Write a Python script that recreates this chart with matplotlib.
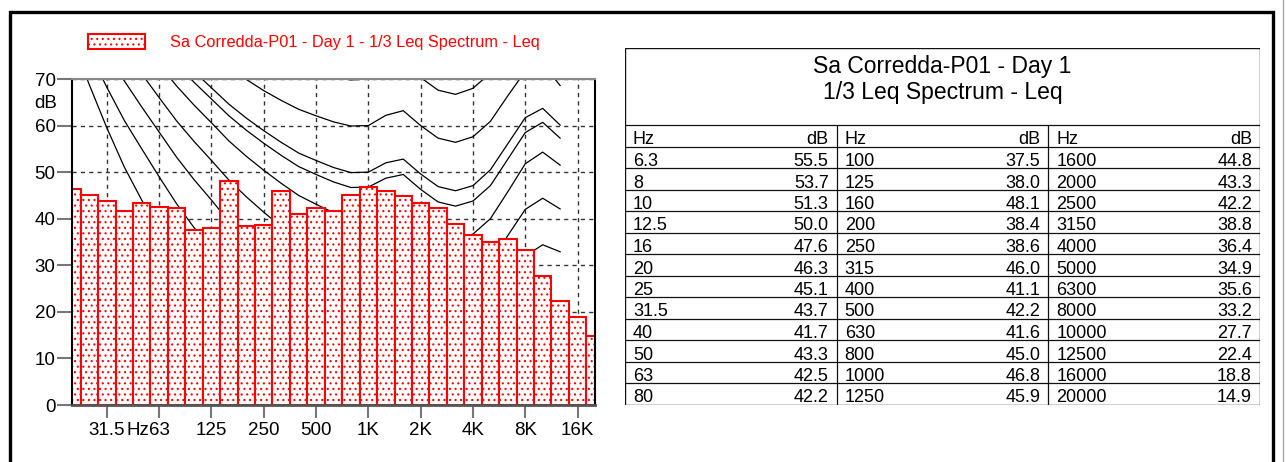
import numpy as np
import matplotlib
matplotlib.use('Agg')
from matplotlib import pyplot as plt
from matplotlib.patches import Rectangle
from matplotlib.lines import Line2D

plt.rcParams['font.family'] = ['Liberation Sans', 'DejaVu Sans']
plt.rcParams['hatch.linewidth'] = 0.8

# 1/3 octave bands and measured Leq (dB).
BANDS = ['6.3', '8', '10', '12.5', '16', '20', '25', '31.5', '40', '50', '63', '80',
         '100', '125', '160', '200', '250', '315', '400', '500', '630', '800', '1000', '1250',
         '1600', '2000', '2500', '3150', '4000', '5000', '6300', '8000', '10000', '12500',
         '16000', '20000']
LEQ = [55.5, 53.7, 51.3, 50.0, 47.6, 46.3, 45.1, 43.7, 41.7, 43.3, 42.5, 42.2,
       37.5, 38.0, 48.1, 38.4, 38.6, 46.0, 41.1, 42.2, 41.6, 45.0, 46.8, 45.9,
       44.8, 43.3, 42.2, 38.8, 36.4, 34.9, 35.6, 33.2, 27.7, 22.4, 18.8, 14.9]

# Axis ticks (band index -> label).
TICK_BANDS = ['31.5', '63', '125', '250', '500', '1000', '2000', '4000', '8000', '16000']
TICK_LABELS = ['31.5', '63', '125', '250', '500', '1K', '2K', '4K', '8K', '16K']

# Equal loudness contours, 20 Hz .. 12.5 kHz.
CONTOUR_BANDS = BANDS[5:34]
PHON_0 = [78.5, 68.7, 59.5, 51.1, 44.0, 37.5, 31.5, 26.5, 22.1, 17.9, 14.4, 11.4, 8.6, 6.2, 4.4,
          3.0, 2.2, 2.4, 3.5, 1.7, -1.3, -4.2, -6.0, -5.4, -1.5, 6.0, 12.6, 13.9, 12.3]
PHON_10 = [83.8, 75.8, 68.2, 61.1, 55.0, 49.0, 43.2, 38.1, 33.5, 28.8, 24.8, 21.3, 18.1, 15.1, 13.0,
           11.2, 10.0, 10.0, 11.3, 10.4, 7.3, 4.5, 3.0, 4.0, 7.5, 14.3, 20.4, 21.4, 18.6]
PHON_20 = [89.6, 82.7, 76.0, 69.6, 64.0, 58.6, 53.2, 48.4, 44.0, 39.4, 35.5, 31.9, 28.4, 25.3, 23.0,
           21.4, 20.3, 20.0, 21.6, 21.1, 18.5, 15.8, 15.1, 16.4, 20.1, 26.4, 32.0, 34.4, 32.9]
PHON_30 = [94.8, 88.4, 82.2, 76.3, 71.1, 66.0, 61.0, 56.6, 52.5, 48.3, 44.7, 41.4, 38.3, 35.4, 33.3,
           31.6, 30.5, 30.0, 31.9, 31.9, 28.9, 26.3, 25.5, 26.6, 30.3, 36.4, 42.0, 44.4, 42.1]
PHON_40 = [99.9, 93.9, 88.2, 82.6, 77.8, 73.1, 68.5, 64.4, 60.6, 56.7, 53.4, 50.4, 47.6, 45.0, 43.1,
           41.3, 40.1, 40.0, 41.8, 42.5, 39.2, 36.5, 35.6, 36.7, 40.0, 45.8, 51.8, 54.3, 51.5]
PHON_LN = [103.2, 97.5, 91.9, 86.6, 81.9, 77.5, 73.2, 69.3, 65.7, 62.1, 59.0, 56.2, 53.6, 51.2, 49.5,
           47.9, 46.7, 46.8, 48.7, 49.5, 46.3, 43.6, 42.7, 43.8, 47.1, 52.8, 58.5, 60.7, 57.3]
PHON_50 = [104.8, 99.2, 93.7, 88.5, 83.9, 79.6, 75.4, 71.6, 68.1, 64.6, 61.6, 58.9, 56.4, 54.1, 52.5,
           51.0, 49.9, 50.0, 52.0, 52.8, 49.6, 46.9, 46.0, 47.1, 50.5, 56.1, 61.7, 63.7, 60.1]
PHON_60 = [109.5, 104.2, 99.1, 94.2, 90.0, 85.9, 82.1, 78.7, 75.6, 72.5, 69.9, 67.5, 65.4, 63.5, 62.1,
           60.8, 59.9, 60.0, 62.2, 63.2, 60.0, 57.3, 56.4, 57.6, 60.9, 66.4, 71.7, 73.2, 68.6]
PHON_70 = [114.3, 109.2, 104.4, 99.8, 95.8, 92.2, 88.6, 85.6, 82.8, 80.1, 77.9, 75.9, 74.1, 72.6, 71.5,
           70.5, 69.8, 70.0, 72.3, 73.5, 70.3, 67.6, 66.7, 68.0, 71.3, 76.8, 81.8, 82.8, 77.2]
CONTOURS = [PHON_0, PHON_10, PHON_20, PHON_30, PHON_40, PHON_LN, PHON_50, PHON_60, PHON_70]

TITLE = 'Sa Corredda-P01 - Day 1'
SUBTITLE = '1/3 Leq Spectrum - Leq'

W, H = 1286, 462
fig = plt.figure(figsize=(W / 100, H / 100), dpi=100)

# Page frame.
fig.add_artist(Rectangle((10 / W, -0.2), (1273 - 10) / W, 1.2 - 12 / H, transform=fig.transFigure,
                         fill=False, edgecolor='black', linewidth=2.4))
fig.add_artist(Line2D([1283 / W, 1283 / W], [0, 1], transform=fig.transFigure, color='#aaaaaa', lw=1))

# ---- Spectrum plot ----
ax = fig.add_axes([72 / W, 1 - 405 / H, (595 - 72) / W, (405 - 79) / H])
pos = np.arange(len(BANDS))
ax.bar(pos, LEQ, width=1.0, color='white', edgecolor='red', linewidth=1.5, hatch='...',
       zorder=3, label=f'{TITLE} - {SUBTITLE}')

cpos = [BANDS.index(b) for b in CONTOUR_BANDS]
for curve in CONTOURS:
    ax.plot(cpos, curve, color='black', lw=0.9, zorder=2)

ax.set_xlim(BANDS.index('20'), BANDS.index('20000'))
ax.set_ylim(0, 70)
ax.set_yticks(np.arange(0, 71, 10))
ax.set_xticks([BANDS.index(b) for b in TICK_BANDS], labels=TICK_LABELS)
ax.set_xticks([BANDS.index('31.5') + 1.75], labels=['Hz'], minor=True)
ax.set_axisbelow(True)
ax.grid(True, which='major', linestyle=(0, (3, 3)), color='#333333', lw=1.0)

ax.tick_params(axis='y', length=10.8, width=1.5, color='#777777', pad=1, labelsize=13.5)
ax.tick_params(axis='x', which='major', length=9.4, width=1.5, color='#777777', pad=3,
               labelsize=13.5)
ax.tick_params(axis='x', which='minor', length=0, pad=12.4, labelsize=13.5)

for side in ['left', 'right']:
    ax.spines[side].set_color('black')
    ax.spines[side].set_linewidth(1.5)
ax.spines['top'].set_color('#888888')
ax.spines['top'].set_linewidth(1.5)
ax.spines['bottom'].set_color('#555555')
ax.spines['bottom'].set_linewidth(2)
for sp in ax.spines.values():
    sp.set_zorder(4)

ax.annotate('dB', xy=(0, 64.8), xycoords=('axes fraction', 'data'), xytext=(-15, 0),
            textcoords='offset pixels', ha='right', va='center', fontsize=13.5)

fig.legend(loc='center left', bbox_to_anchor=(88 / W, 1 - 42 / H), frameon=False,
           handlelength=3.5, handleheight=1.0, handletextpad=1.5, borderpad=0,
           borderaxespad=0, fontsize=11.8, labelcolor='red')

# ---- Table ----
tx0, tx1, ty0, ty1 = 625, 1260, 48, 405
tab = fig.add_axes([tx0 / W, 1 - ty1 / H, (tx1 - tx0) / W, (ty1 - ty0) / H])
tab.set_xlim(0, tx1 - tx0)
tab.set_ylim(ty1 - ty0, 0)
tab.axis('off')

tw = tx1 - tx0
head = 77
row_h = 21.5
n_rows = 12
group_w = tw / 3
lc = '#111111'

tab.add_patch(Rectangle((0, 0), tw, ty1 - ty0, fill=False, edgecolor=lc, lw=1.0))
tab.hlines([head + row_h * k for k in range(n_rows + 1)], 0, tw, color=lc, lw=0.9)
tab.vlines([group_w, 2 * group_w], head, ty1 - ty0, color=lc, lw=0.9)

tab.text(tw / 2, 18, TITLE, ha='center', va='center', fontsize=16.5)
tab.text(tw / 2, 44, SUBTITLE, ha='center', va='center', fontsize=16.5)

tfont = dict(fontsize=13)
for g in range(3):
    gx = g * group_w
    base = head + row_h - 3
    tab.text(gx + 8, base, 'Hz', ha='left', va='baseline', **tfont)
    tab.text(gx + group_w - 8, base, 'dB', ha='right', va='baseline', **tfont)
    for r in range(n_rows):
        idx = g * n_rows + r
        base = head + row_h * (r + 2) - 2
        tab.text(gx + 8, base, BANDS[idx], ha='left', va='baseline', **tfont)
        tab.text(gx + group_w - 8, base, f'{LEQ[idx]:.1f}', ha='right', va='baseline', **tfont)

plt.savefig('out.png', dpi=100)
